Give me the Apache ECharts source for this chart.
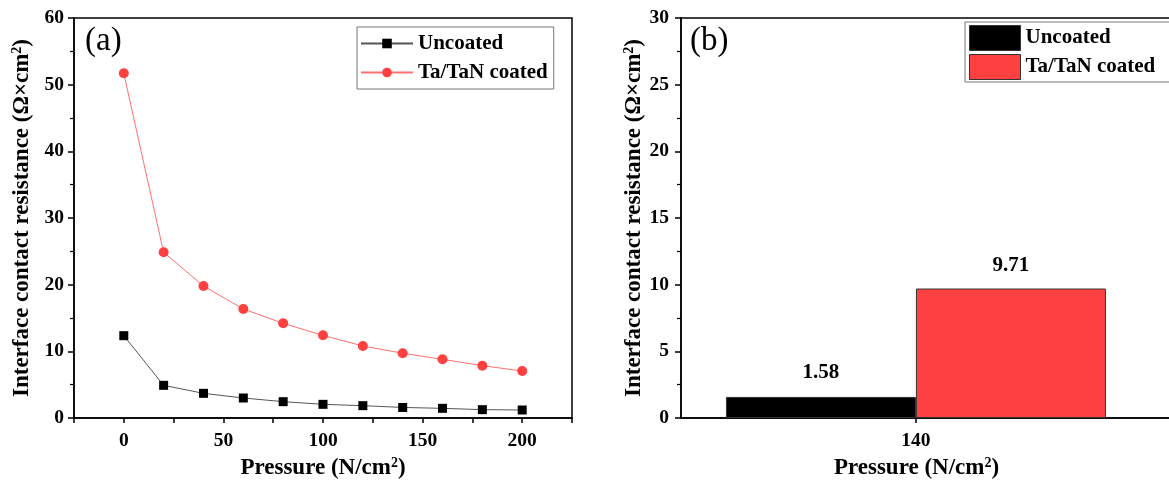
<!DOCTYPE html>
<html>
<head>
<meta charset="utf-8">
<script src="https://cdn.jsdelivr.net/npm/echarts@6/dist/echarts.min.js"></script>
<style>
  html, body { margin: 0; padding: 0; background: #fff; }
  #main { width: 1169px; height: 480px; }
</style>
</head>
<body>
<div id="main"></div>
<script>
// data
var pressure = [0, 20, 40, 60, 80, 100, 120, 140, 160, 180, 200];
var uncoated = [12.35, 4.9, 3.7, 3.0, 2.45, 2.05, 1.85, 1.58, 1.45, 1.25, 1.2];
var coated = [51.7, 24.85, 19.8, 16.35, 14.2, 12.4, 10.8, 9.71, 8.8, 7.85, 7.05];
var barPressure = 140;
var barUncoated = 1.58;
var barCoated = 9.71;
var xTicksA = [0, 50, 100, 150, 200];

var FONT = 'Liberation Serif';
var myChart = echarts.init(document.getElementById('main'));

function pairs(xs, ys) {
  return xs.map(function (x, i) { return [x, ys[i]]; });
}
var yName = 'Interface contact resistance (Ω×cm{sup|2})';
var xName = 'Pressure (N/cm{sup|2})';
var nameStyle = {
  fontFamily: FONT, fontWeight: 'bold', fontSize: 23, color: '#000',
  rich: { sup: { fontFamily: FONT, fontWeight: 'bold', fontSize: 14, color: '#000', verticalAlign: 'top', padding: [0, 0, 10, 0] } }
};
var labelStyle = { fontFamily: FONT, fontWeight: 'bold', fontSize: 19.5, color: '#000' };
var lineAxis = { show: true, onZero: false, lineStyle: { color: '#000', width: 1.5 } };

var option = {
  animation: false,
  title: [
    { text: '(a)', left: 80, top: 20, textStyle: { fontFamily: FONT, fontWeight: 'normal', fontSize: 33, color: '#000' } },
    { text: '(b)', left: 685, top: 20, textStyle: { fontFamily: FONT, fontWeight: 'normal', fontSize: 33, color: '#000' } }
  ],
  legend: [
    {
      left: 357, top: 27, orient: 'vertical', selectedMode: false,
      borderColor: '#777', borderWidth: 1, padding: [6, 6, 6, 3],
      itemWidth: 52, itemHeight: 12, itemGap: 8,
      textStyle: { fontFamily: FONT, fontWeight: 'bold', fontSize: 21, color: '#000' },
      data: ['Uncoated', 'Ta/TaN coated']
    },
    {
      left: 965, top: 22, orient: 'vertical', selectedMode: false,
      borderColor: '#777', borderWidth: 1, padding: [3, 60, 2, 4],
      itemWidth: 51, itemHeight: 25, itemGap: 3,
      textStyle: { fontFamily: FONT, fontWeight: 'bold', fontSize: 21, color: '#000' },
      data: [
        { name: 'Uncoated', icon: 'rect', itemStyle: { color: '#000', borderColor: '#333', borderWidth: 1 } },
        { name: 'Ta/TaN coated', icon: 'rect', itemStyle: { color: '#ff4040', borderColor: '#333', borderWidth: 1 } }
      ]
    }
  ],
  grid: [
    { left: 74, top: 18, width: 498, height: 400, outerBoundsMode: 'none', containLabel: false, show: true, borderColor: '#000', borderWidth: 1.5 },
    { left: 681, top: 18, width: 537, height: 400, outerBoundsMode: 'none', containLabel: false, show: true, borderColor: '#000', borderWidth: 1.5 }
  ],
  xAxis: [
    {
      gridIndex: 0, type: 'value', min: -25, max: 225, interval: 25,
      name: xName, nameLocation: 'middle', nameGap: 36, nameTextStyle: nameStyle,
      axisLine: lineAxis, splitLine: { show: false },
      axisTick: { show: true, length: 5, lineStyle: { color: '#000', width: 1.5 } },
      axisLabel: Object.assign({
        margin: 13,
        formatter: function (v) { return xTicksA.indexOf(v) >= 0 ? String(v) : ''; }
      }, labelStyle)
    },
    {
      gridIndex: 1, type: 'value', min: 0, max: 320,
      name: xName, nameLocation: 'middle', nameGap: 36,
      nameTextStyle: Object.assign({}, nameStyle, { padding: [0, 66, 0, 0] }),
      axisLine: lineAxis, splitLine: { show: false },
      axisTick: { show: true, length: 5, customValues: [barPressure], lineStyle: { color: '#000', width: 1.5 } },
      axisLabel: Object.assign({ margin: 13, customValues: [barPressure] }, labelStyle)
    }
  ],
  yAxis: [
    {
      gridIndex: 0, type: 'value', min: 0, max: 60, interval: 10,
      name: yName, nameLocation: 'middle', nameGap: 40, nameTextStyle: nameStyle,
      axisLine: lineAxis, splitLine: { show: false },
      axisTick: { show: true, length: 6, lineStyle: { color: '#000', width: 1.5 } },
      minorTick: { show: true, splitNumber: 2, length: 4, lineStyle: { color: '#000', width: 1.2 } },
      axisLabel: Object.assign({ margin: 10 }, labelStyle)
    },
    {
      gridIndex: 1, type: 'value', min: 0, max: 30, interval: 5,
      name: yName, nameLocation: 'middle', nameGap: 35, nameTextStyle: nameStyle,
      axisLine: lineAxis, splitLine: { show: false },
      axisTick: { show: true, length: 6, lineStyle: { color: '#000', width: 1.5 } },
      minorTick: { show: true, splitNumber: 2, length: 4, lineStyle: { color: '#000', width: 1.2 } },
      axisLabel: Object.assign({ margin: 12 }, labelStyle)
    }
  ],
  series: [
    {
      name: 'Uncoated', type: 'line', xAxisIndex: 0, yAxisIndex: 0,
      data: pairs(pressure, uncoated),
      symbol: 'rect', symbolSize: 9,
      itemStyle: { color: '#000' },
      lineStyle: { color: '#555', width: 1 }
    },
    {
      name: 'Ta/TaN coated', type: 'line', xAxisIndex: 0, yAxisIndex: 0,
      data: pairs(pressure, coated),
      symbol: 'circle', symbolSize: 10,
      itemStyle: { color: '#ff4040' },
      lineStyle: { color: '#ff7070', width: 1 }
    },
    {
      name: 'Uncoated', type: 'bar', xAxisIndex: 1, yAxisIndex: 1,
      data: [[barPressure, barUncoated]],
      barWidth: 190, barGap: '0%',
      itemStyle: { color: '#000', borderColor: '#333', borderWidth: 1 },
      label: { show: true, position: 'top', distance: 14, fontFamily: FONT, fontWeight: 'bold', fontSize: 21, color: '#000' }
    },
    {
      name: 'Ta/TaN coated', type: 'bar', xAxisIndex: 1, yAxisIndex: 1,
      data: [[barPressure, barCoated]],
      barWidth: 190, barGap: '0%',
      itemStyle: { color: '#ff4040', borderColor: '#333', borderWidth: 1 },
      label: { show: true, position: 'top', distance: 12, fontFamily: FONT, fontWeight: 'bold', fontSize: 21, color: '#000' }
    }
  ]
};
myChart.setOption(option);
</script>
</body>
</html>
